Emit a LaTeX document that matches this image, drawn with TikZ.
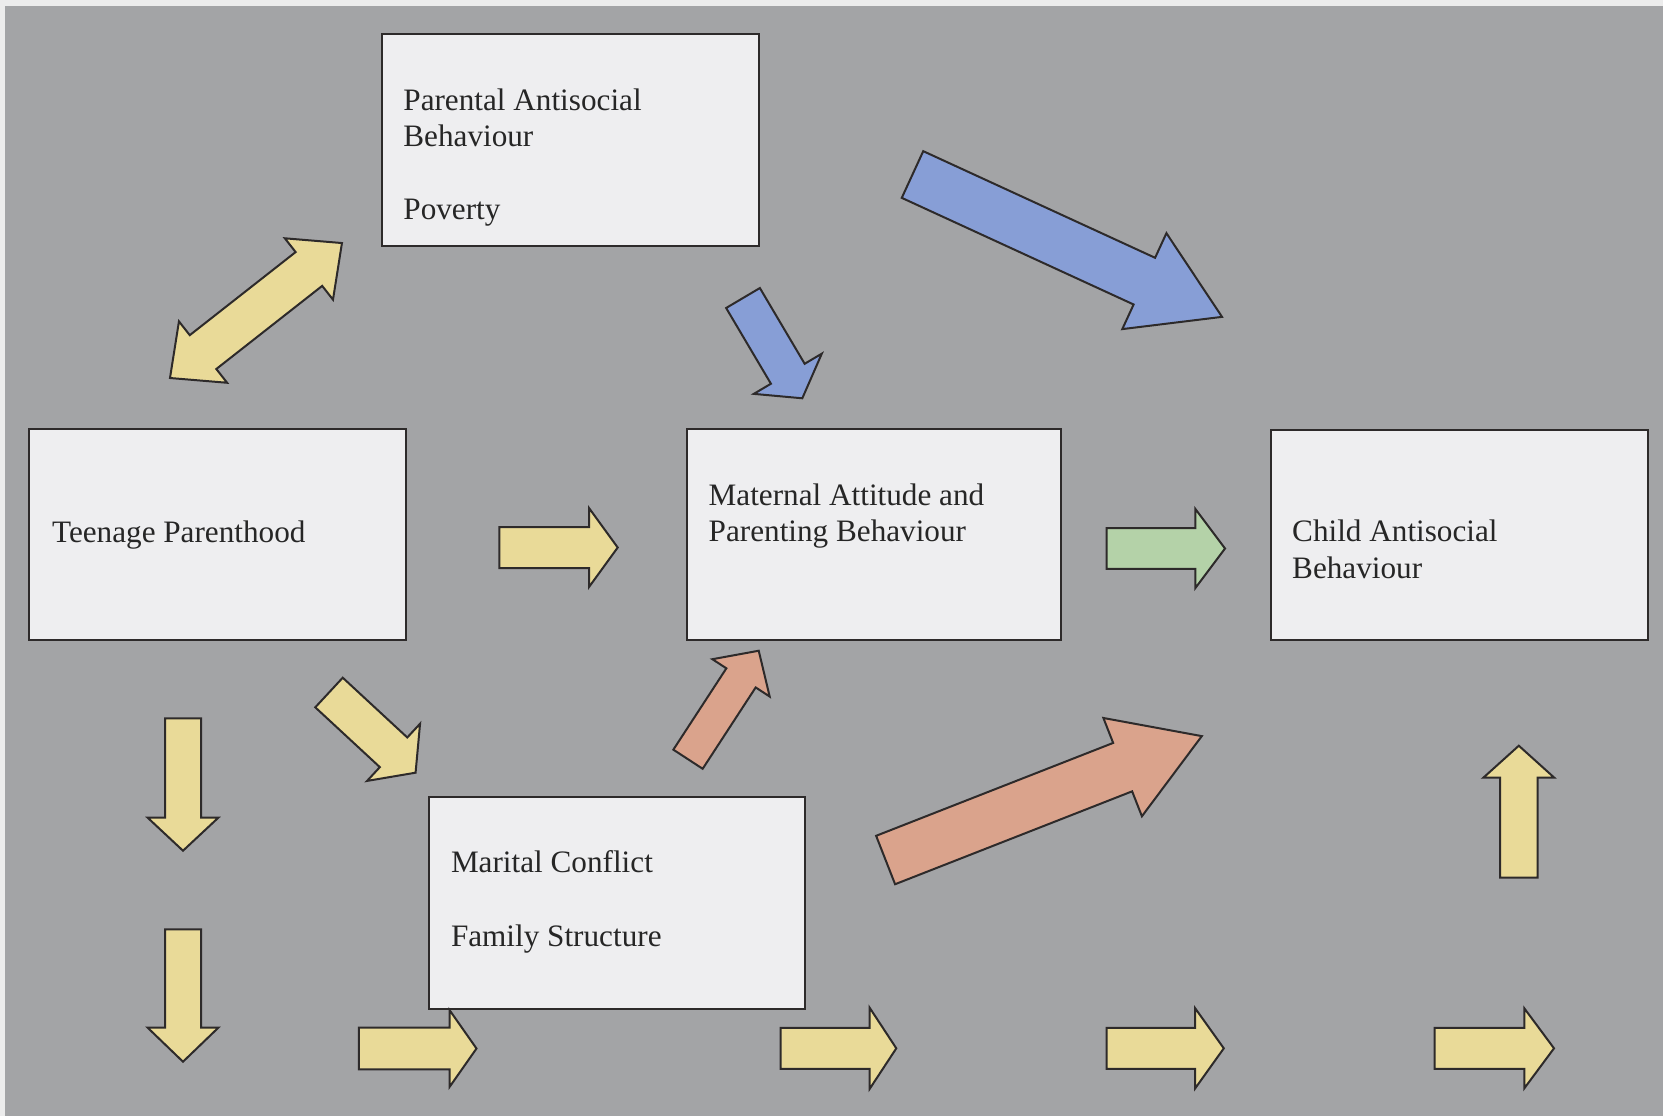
\documentclass[tikz,border=0pt]{standalone}
\usepackage{fontspec}
\setmainfont{Liberation Serif}
\definecolor{bgc}{RGB}{163,164,166}
\definecolor{edgec}{RGB}{236,236,236}
\definecolor{boxc}{RGB}{238,238,240}
\definecolor{linec}{RGB}{45,42,42}
\definecolor{txtc}{RGB}{38,38,38}
\definecolor{yel}{RGB}{233,218,152}
\definecolor{blu}{RGB}{135,158,214}
\definecolor{sal}{RGB}{218,163,140}
\definecolor{grn}{RGB}{180,210,168}
\tikzset{
  box/.style={draw=linec, fill=boxc, line width=1pt, inner sep=0pt},
  lbl/.style={anchor=base west, inner sep=0pt, text=txtc, font=\fontsize{15.6}{18.3}\selectfont},
  arrline/.style={draw=linec, line width=1pt, line join=miter},
  pics/barrow/.style n args={5}{code={
    \path[arrline, fill=#1] (0,-#3) -- ({#2-#5},-#3) -- ({#2-#5},-#4) -- (#2,0)
      -- ({#2-#5},#4) -- ({#2-#5},#3) -- (0,#3) -- cycle;}},
  pics/dbarrow/.style n args={5}{code={
    \path[arrline, fill=#1] (0,0) -- (#5,#4) -- (#5,#3) -- ({#2-#5},#3) -- ({#2-#5},#4)
      -- (#2,0) -- ({#2-#5},-#4) -- ({#2-#5},-#3) -- (#5,-#3) -- (#5,-#4) -- cycle;}}
}
\begin{document}
\begin{tikzpicture}[x=0.5pt,y=-0.5pt]
\useasboundingbox (0,0) rectangle (1663,1116);
\fill[edgec] (0,0) rectangle (1663,1116);
\fill[bgc] (5,6) rectangle (1663,1116);

% boxes
\node[box, minimum width=188.25pt, minimum height=106.25pt] (par) at (570.25,139.75) {};
\node[box, minimum width=188.8pt, minimum height=105.5pt] (teen) at (217.4,534) {};
\node[box, minimum width=186.65pt, minimum height=105.5pt] (mat) at (873.9,534) {};
\node[box, minimum width=188.8pt, minimum height=105pt] (child) at (1459.4,534.5) {};
\node[box, minimum width=187.7pt, minimum height=106.15pt] (mar) at (617.1,902.8) {};

% labels
\node[lbl] (par1) at (403,110.5) {Parental Antisocial};
\node[lbl] (par2) at (403,146.5) {Behaviour};
\node[lbl] (par3) at (403,219) {Poverty};
\node[lbl] (teen1) at (51.7,542.7) {Teenage Parenthood};
\node[lbl] (mat1) at (708.3,505) {Maternal Attitude and};
\node[lbl] (mat2) at (708.3,541) {Parenting Behaviour};
\node[lbl] (child1) at (1291.8,541.6) {Child Antisocial};
\node[lbl] (child2) at (1291.8,578) {Behaviour};
\node[lbl] (mar1) at (450.6,872.7) {Marital Conflict};
\node[lbl] (mar2) at (450.6,946) {Family Structure};

% block arrows
\pic[rotate=38.13] at (170,378) {dbarrow={yel}{218.6}{21.5}{39}{42}};
\pic[rotate=-59.4] at (743,298) {barrow={blu}{116.5}{19.6}{39.5}{28.5}};
\pic[rotate=-24.7] at (912.5,174.5) {barrow={blu}{340.7}{25.7}{52.8}{85.5}};
\pic at (499.3,547.5) {barrow={yel}{118.4}{20.5}{39.5}{28.7}};
\pic at (1106.7,548.5) {barrow={grn}{118.3}{20.3}{39.6}{29.7}};
\pic[rotate=56.9] at (688,759.2) {barrow={sal}{129.5}{17.5}{34.2}{32.4}};
\pic[rotate=21.4] at (885.6,860) {barrow={sal}{339.6}{26}{52.8}{85}};
\pic[rotate=-42.8] at (329,692.5) {barrow={yel}{118}{20.2}{39}{30}};
\pic[rotate=-90] at (183,718.3) {barrow={yel}{132.4}{18}{35.3}{33}};
\pic[rotate=-90] at (183,929.3) {barrow={yel}{132.4}{18}{35.3}{34}};
\pic at (358.8,1048.5) {barrow={yel}{117.7}{20.8}{38.5}{27}};
\pic at (780.7,1048.3) {barrow={yel}{115.6}{20.5}{40.5}{26.6}};
\pic at (1106.5,1048.3) {barrow={yel}{117.3}{20.5}{40}{28.6}};
\pic at (1434.6,1048.3) {barrow={yel}{119.4}{20.5}{40}{29.7}};
\pic[rotate=90] at (1518.8,877.7) {barrow={yel}{132}{18.7}{35.5}{32}};
\end{tikzpicture}
\end{document}
